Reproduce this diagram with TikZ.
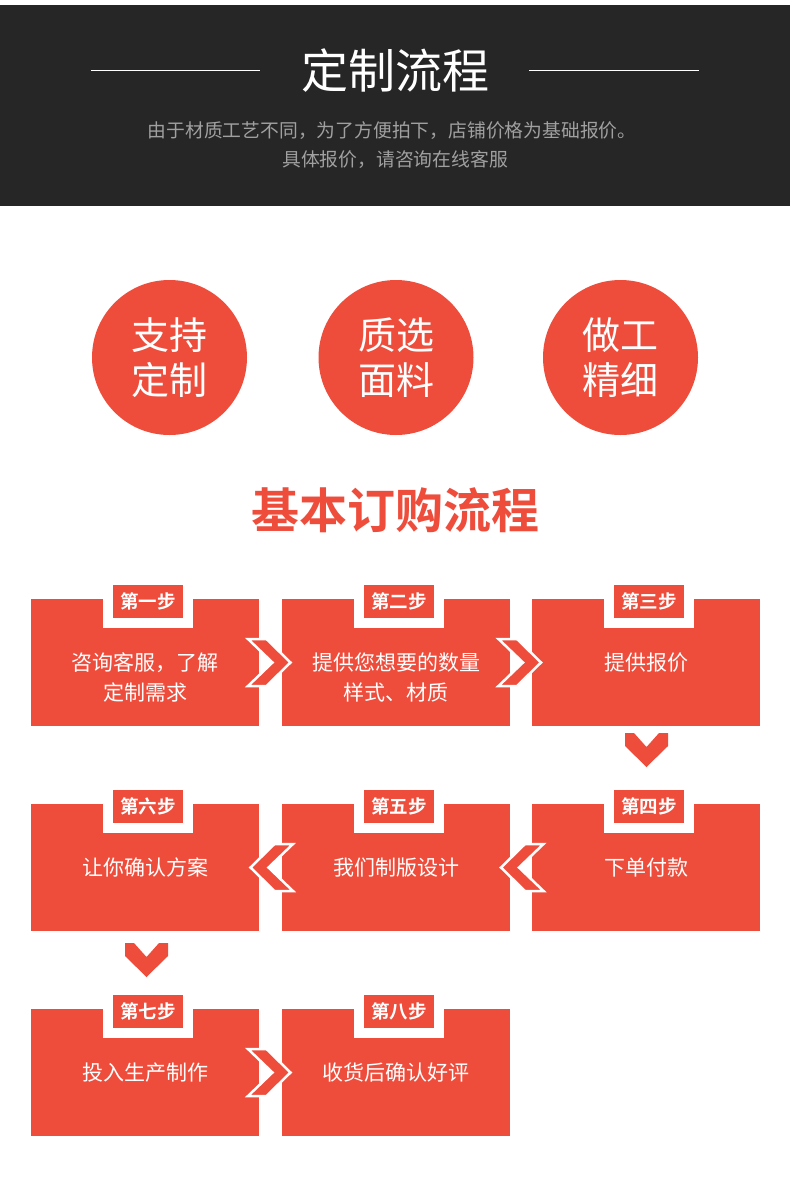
\documentclass[tikz,border=0pt]{standalone}
\usepackage{fontspec}
\setmainfont{Noto Sans CJK SC}[BoldFont={Noto Sans CJK SC Bold}]
\usetikzlibrary{calc}
\definecolor{brand}{RGB}{238,77,60}
\definecolor{band}{RGB}{38,38,38}
\definecolor{subgrey}{RGB}{160,160,160}
\tikzset{
  stepbox/.style={fill=brand, draw=none, minimum width=228pt, minimum height=127pt, inner sep=0pt, outer sep=0pt},
  steplabel/.style={fill=brand, text=white, minimum width=70pt, minimum height=33pt, inner sep=0pt, font=\bfseries\fontsize{18.5}{20}\selectfont},
  steptext/.style={text=white, align=center, inner sep=0pt, font=\fontsize{21}{29.5}\selectfont},
  circbadge/.style={circle, fill=brand, minimum size=155pt, inner sep=0pt, text=white, align=center, font=\fontsize{38}{45.5}\selectfont},
  chevshape/.style={fill=brand, draw=white, line width=2.5pt, line join=miter},
  chevr/.pic={\path[chevshape] (-21.5,-23.5) -- (-3,-23.5) -- (21,0) -- (-3,23.5) -- (-21.5,23.5) -- (3,0) -- cycle;},
  chevl/.pic={\path[chevshape] (21.5,-23.5) -- (3,-23.5) -- (-21,0) -- (3,23.5) -- (21.5,23.5) -- (-3,0) -- cycle;},
  chevd/.pic={\fill[brand] (-21.5,-17) -- (-12.5,-17) -- (0,-3) -- (12.5,-17) -- (21.5,-17) -- (21.5,-4) -- (0,17) -- (-21.5,-4) -- cycle;},
  notch/.style={fill=white}
}
\begin{document}
\begin{tikzpicture}[x=1pt,y=-1pt]
\useasboundingbox (0,0) rectangle (790,1186);
\fill[white] (0,0) rectangle (790,1186);
% header band
\fill[band] (0,5) rectangle (790,206);
\node[text=white, inner sep=0pt, font=\fontsize{47}{50}\selectfont] (title) at (395,71) {定制流程};
\coordinate (ll1) at (91,70);
\coordinate (ll2) at (260,70);
\coordinate (rl1) at (529,70);
\coordinate (rl2) at (699,70);
\draw[white, line width=1pt] (ll1) -- (ll2);
\draw[white, line width=1pt] (rl1) -- (rl2);
\node[text=subgrey, inner sep=0pt, font=\fontsize{18.8}{20}\selectfont] (sub1) at (392,131) {由于材质工艺不同，为了方便拍下，店铺价格为基础报价。};
\node[text=subgrey, inner sep=0pt, font=\fontsize{18.8}{20}\selectfont] (sub2) at (395,160) {具体报价，请咨询在线客服};
% circles
\node[circbadge] (c1) at (169.5,357.5) {支持\\定制};
\node[circbadge] (c2) at (396,357.5) {质选\\面料};
\node[circbadge] (c3) at (620.5,357.5) {做工\\精细};
% section title
\node[text=brand, inner sep=0pt, font=\bfseries\fontsize{48}{50}\selectfont] (sect) at (395,510) {基本订购流程};
% boxes
\foreach \n/\x/\y in {1/145/662.5, 2/396/662.5, 3/646/662.5, 4/646/867.5, 5/396/867.5, 6/145/867.5, 7/145/1072.5, 8/396/1072.5}{
  \node[stepbox] (b\n) at (\x,\y) {};
  \fill[notch] ($(b\n.north west)+(72,0)$) rectangle ($(b\n.north west)+(162,29)$);
}
\node[steplabel] (l1) at ($(b1.north west)+(117,2.5)$) {第一步};
\node[steplabel] (l2) at ($(b2.north west)+(117,2.5)$) {第二步};
\node[steplabel] (l3) at ($(b3.north west)+(117,2.5)$) {第三步};
\node[steplabel] (l4) at ($(b4.north west)+(117,2.5)$) {第四步};
\node[steplabel] (l5) at ($(b5.north west)+(117,2.5)$) {第五步};
\node[steplabel] (l6) at ($(b6.north west)+(117,2.5)$) {第六步};
\node[steplabel] (l7) at ($(b7.north west)+(117,2.5)$) {第七步};
\node[steplabel] (l8) at ($(b8.north west)+(117,2.5)$) {第八步};
\node[steptext] (t1) at ($(b1.center)+(0,14.75)$) {咨询客服，了解\\定制需求};
\node[steptext] (t2) at ($(b2.center)+(0,14.75)$) {提供您想要的数量\\样式、材质};
\node[steptext] (t3) at (b3.center) {提供报价};
\node[steptext] (t4) at (b4.center) {下单付款};
\node[steptext] (t5) at (b5.center) {我们制版设计};
\node[steptext] (t6) at (b6.center) {让你确认方案};
\node[steptext] (t7) at (b7.center) {投入生产制作};
\node[steptext] (t8) at (b8.center) {收货后确认好评};
% chevrons
\pic at ($($(b1.east)!0.5!(b2.west)$)+(-1,0)$) {chevr};
\pic at ($($(b2.east)!0.5!(b3.west)$)+(-1,0)$) {chevr};
\pic at ($($(b4.west)!0.5!(b5.east)$)+(1,0)$) {chevl};
\pic at ($($(b5.west)!0.5!(b6.east)$)+(1,0)$) {chevl};
\pic at ($($(b7.east)!0.5!(b8.west)$)+(-1,0)$) {chevr};
\pic at ($(b3.south)+(0.5,24)$) {chevd};
\pic at ($(b6.south)+(1.5,29)$) {chevd};
\end{tikzpicture}
\end{document}
